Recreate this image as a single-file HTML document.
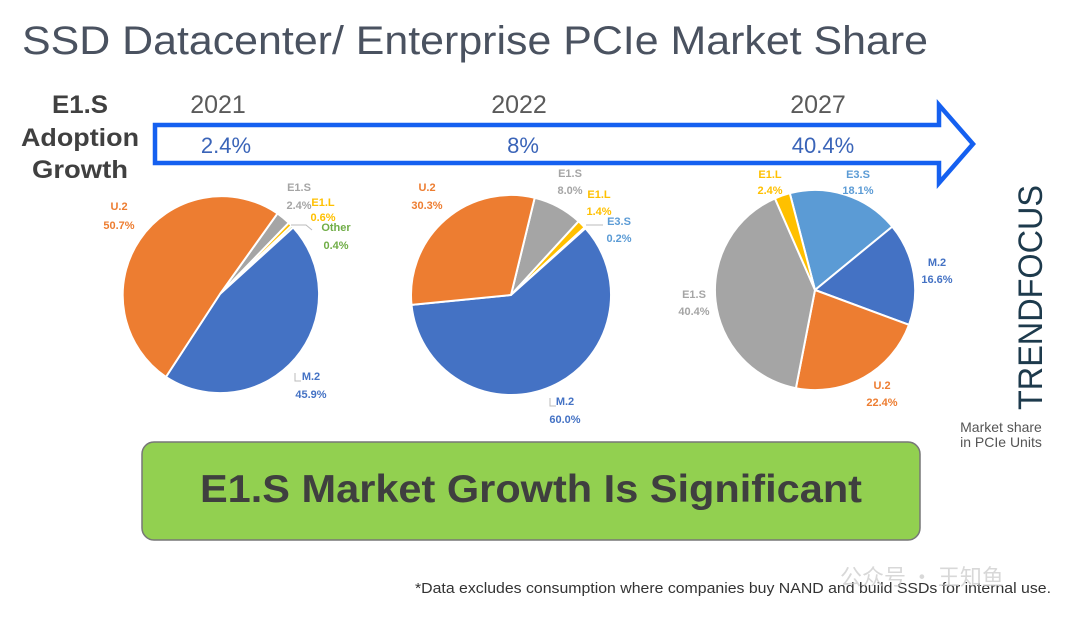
<!DOCTYPE html>
<html><head><meta charset="utf-8"><style>
html,body{margin:0;padding:0;background:#fff;}
svg{display:block;font-family:"Liberation Sans",sans-serif;}
</style></head><body>
<svg width="1080" height="626" viewBox="0 0 1080 626" xmlns="http://www.w3.org/2000/svg">
<rect width="1080" height="626" fill="#fff"/>
<text x="22" y="54" font-size="40" fill="#4a5260" textLength="906" lengthAdjust="spacingAndGlyphs">SSD Datacenter/ Enterprise PCIe Market Share</text>

<g font-weight="bold" font-size="25" fill="#404040" text-anchor="middle">
<text x="80" y="113" textLength="56" lengthAdjust="spacingAndGlyphs">E1.S</text>
<text x="80" y="146" textLength="118" lengthAdjust="spacingAndGlyphs">Adoption</text>
<text x="80" y="178" textLength="96" lengthAdjust="spacingAndGlyphs">Growth</text>
</g>
<g font-size="25" fill="#5a5a5a" text-anchor="middle">
<text x="218" y="113">2021</text><text x="519" y="113">2022</text><text x="818" y="113">2027</text>
</g>
<path d="M155 125 H939 V105 L973 144 L939 183 V163 H155 Z" fill="none" stroke="#1560f0" stroke-width="4.5"/>
<g font-size="22" fill="#3a64b8" text-anchor="middle">
<text x="226" y="153">2.4%</text><text x="523" y="153">8%</text><text x="823" y="153">40.4%</text>
</g>

<g stroke="#fff" stroke-width="2" stroke-linejoin="round">
<path d="M220 294 L277.5 213.4 A99 99 0 0 1 288.8 222.8 Z" fill="#A5A5A5"/>
<path d="M220 294 L288.8 222.8 A99 99 0 0 1 291.6 225.6 Z" fill="#FFC000"/>
<path d="M220 294 L291.6 225.6 A99 99 0 0 1 293.2 227.4 Z" fill="#70AD47"/>
<path d="M220 294 L293.2 227.4 A99 99 0 0 1 165.9 377.0 Z" fill="#4472C4"/>
<path d="M220 294 L165.9 377.0 A99 99 0 1 1 277.5 213.4 Z" fill="#ED7D31"/>

<path d="M511 295 L534.7 197.8 A100 100 0 0 1 578.6 221.3 Z" fill="#A5A5A5"/>
<path d="M511 295 L578.6 221.3 A100 100 0 0 1 584.7 227.4 Z" fill="#FFC000"/>
<path d="M511 295 L584.7 227.4 A100 100 0 0 1 585.5 228.3 Z" fill="#5B9BD5"/>
<path d="M511 295 L585.5 228.3 A100 100 0 1 1 411.5 304.9 Z" fill="#4472C4"/>
<path d="M511 295 L411.5 304.9 A100 100 0 0 1 534.7 197.8 Z" fill="#ED7D31"/>

<path d="M815 290 L789.8 193.2 A100 100 0 0 1 892.3 226.6 Z" fill="#5B9BD5"/>
<path d="M815 290 L892.3 226.6 A100 100 0 0 1 909.0 324.8 Z" fill="#4472C4"/>
<path d="M815 290 L909.0 324.8 A100 100 0 0 1 795.9 388.2 Z" fill="#ED7D31"/>
<path d="M815 290 L795.9 388.2 A100 100 0 0 1 774.9 198.4 Z" fill="#A5A5A5"/>
<path d="M815 290 L774.9 198.4 A100 100 0 0 1 789.8 193.2 Z" fill="#FFC000"/>
</g>
<g stroke="#bbb" fill="none" stroke-width="1">
<path d="M291 225 H306 L312 230"/>
<path d="M586 225 H603"/>
<path d="M295 373 V381 H301"/>
<path d="M550 398 V406 H556"/>
</g>
<g font-size="11" font-weight="bold" text-anchor="middle">
<text x="119" y="210" fill="#ED7D31">U.2</text><text x="119" y="229" fill="#ED7D31">50.7%</text>
<text x="299" y="191" fill="#A5A5A5">E1.S</text><text x="299" y="209" fill="#A5A5A5">2.4%</text>
<text x="323" y="206" fill="#FFC000">E1.L</text><text x="323" y="221" fill="#FFC000">0.6%</text>
<text x="336" y="231" fill="#70AD47">Other</text><text x="336" y="249" fill="#70AD47">0.4%</text>
<text x="311" y="380" fill="#4472C4">M.2</text><text x="311" y="398" fill="#4472C4">45.9%</text>

<text x="427" y="191" fill="#ED7D31">U.2</text><text x="427" y="209" fill="#ED7D31">30.3%</text>
<text x="570" y="177" fill="#A5A5A5">E1.S</text><text x="570" y="194" fill="#A5A5A5">8.0%</text>
<text x="599" y="198" fill="#FFC000">E1.L</text><text x="599" y="215" fill="#FFC000">1.4%</text>
<text x="619" y="225" fill="#5B9BD5">E3.S</text><text x="619" y="242" fill="#5B9BD5">0.2%</text>
<text x="565" y="405" fill="#4472C4">M.2</text><text x="565" y="423" fill="#4472C4">60.0%</text>

<text x="770" y="178" fill="#FFC000">E1.L</text><text x="770" y="194" fill="#FFC000">2.4%</text>
<text x="858" y="178" fill="#5B9BD5">E3.S</text><text x="858" y="194" fill="#5B9BD5">18.1%</text>
<text x="937" y="266" fill="#4472C4">M.2</text><text x="937" y="283" fill="#4472C4">16.6%</text>
<text x="694" y="298" fill="#A5A5A5">E1.S</text><text x="694" y="315" fill="#A5A5A5">40.4%</text>
<text x="882" y="389" fill="#ED7D31">U.2</text><text x="882" y="406" fill="#ED7D31">22.4%</text>
</g>

<text transform="translate(1042,410) rotate(-90)" font-size="34" fill="#1d3a4c" textLength="225" lengthAdjust="spacingAndGlyphs">TRENDFOCUS</text>
<g font-size="14" fill="#555" text-anchor="middle">
<text x="1001" y="432">Market share</text><text x="1001" y="447">in PCIe Units</text>
</g>

<rect x="142" y="442" width="778" height="98" rx="12" fill="#92D050" stroke="#777" stroke-width="1.5"/>
<text x="531" y="502" font-size="39" font-weight="bold" fill="#3f3f3f" text-anchor="middle" textLength="662" lengthAdjust="spacingAndGlyphs">E1.S Market Growth Is Significant</text>

<text x="415" y="593" font-size="14.5" fill="#333" textLength="636" lengthAdjust="spacingAndGlyphs">*Data excludes consumption where companies buy NAND and build SSDs for internal use.</text>
<text x="840" y="585" font-size="22" fill="#c8c8c8" opacity="0.7" font-family="'Noto Sans CJK SC',sans-serif">公众号 · 王知鱼</text>
</svg>
</body></html>
